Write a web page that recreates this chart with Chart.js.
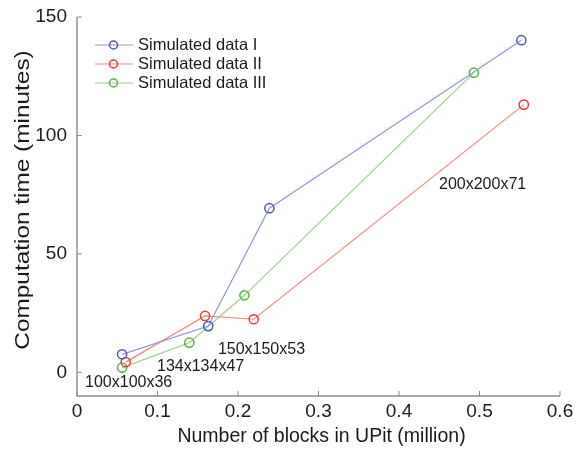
<!DOCTYPE html>
<html><head><meta charset="utf-8">
<script src="https://cdn.jsdelivr.net/npm/chart.js@4"></script>
<style>html,body{margin:0;padding:0;background:#fff}#wrap{width:579px;height:450px}</style>
</head><body><div id="wrap"><canvas id="c" width="579" height="450"></canvas></div>
<script>
const seriesNames = ["Simulated data I", "Simulated data II", "Simulated data III"];
const xI   = [0.056, 0.163, 0.239, 0.552];
const yI   = [7.6, 19.5, 69.3, 140.2];
const xII  = [0.0605, 0.159, 0.2195, 0.555];
const yII  = [4.3, 23.8, 22.4, 113];
const xIII = [0.056, 0.1395, 0.208, 0.493];
const yIII = [2, 12.5, 32.5, 126.5];
const xTicks = [0, 0.1, 0.2, 0.3, 0.4, 0.5, 0.6];
const yTicks = [0, 50, 100, 150];
const gridLabels = ["100x100x36", "134x134x47", "150x150x53", "200x200x71"];
const labelX = [0.01, 0.0994, 0.175, 0.4497];
const labelY = [-4.2, 2.5, 9.7, 79.3];
const xTitle = "Number of blocks in UPit (million)";
const yTitle = "Computation time (minutes)";

const FONT = "'Liberation Sans', Arial, sans-serif";
function pts(xs, ys){ return xs.map((x,i)=>({x:x, y:ys[i]})); }
const lineCols = ["#8f98d6", "#f7887a", "#95d385"];
const markCols = ["#4a57b8", "#ef3b2e", "#55b542"];

const decor = {
  id:'decor',
  afterDraw(chart){
    const ctx = chart.ctx, xs = chart.scales.x, ys = chart.scales.y, a = chart.chartArea;
    ctx.save();
    ctx.strokeStyle = '#8a8a8a'; ctx.lineWidth = 1.4;
    ctx.beginPath();
    ctx.moveTo(a.left, a.top); ctx.lineTo(a.left, a.bottom); ctx.lineTo(a.right, a.bottom);
    ctx.stroke();
    ctx.lineWidth = 1;
    ctx.beginPath();
    xTicks.forEach(v=>{ const p = xs.getPixelForValue(v); ctx.moveTo(p, a.bottom); ctx.lineTo(p, a.bottom-5); });
    yTicks.forEach(v=>{ const p = ys.getPixelForValue(v); ctx.moveTo(a.left, p); ctx.lineTo(a.left+5, p); });
    ctx.stroke();
    ctx.fillStyle = '#1a1a1a'; ctx.font = '16px ' + FONT; ctx.textBaseline = 'middle'; ctx.textAlign = 'left';
    gridLabels.forEach((t,i)=>{ ctx.fillText(t, xs.getPixelForValue(labelX[i]), ys.getPixelForValue(labelY[i])); });
    // axis titles
    ctx.font = '19.5px ' + FONT; ctx.textAlign = 'center';
    ctx.fillText(xTitle, (a.left + a.right)/2 + 3, 437);
    ctx.translate(24, 200);
    ctx.rotate(-Math.PI/2);
    ctx.scale(1.25, 1);
    ctx.fillText(yTitle, 0, 0);
    ctx.restore();
    // legend
    ctx.save();
    ctx.font = '16.5px ' + FONT; ctx.textBaseline='middle'; ctx.textAlign='left';
    seriesNames.forEach((n,i)=>{
      const y = 45 + i*19;
      ctx.strokeStyle = lineCols[i]; ctx.lineWidth=1.2;
      ctx.beginPath(); ctx.moveTo(95,y); ctx.lineTo(133,y); ctx.stroke();
      ctx.strokeStyle = markCols[i]; ctx.lineWidth=1.5;
      ctx.beginPath(); ctx.arc(113.5,y,4,0,Math.PI*2); ctx.stroke();
      ctx.fillStyle='#1a1a1a'; ctx.fillText(n, 138, y);
    });
    ctx.restore();
  }
};

new Chart(document.getElementById('c'), {
  type: 'scatter',
  data: { datasets: [
    {label: seriesNames[0], data: pts(xI,yI)},
    {label: seriesNames[1], data: pts(xII,yII)},
    {label: seriesNames[2], data: pts(xIII,yIII)}
  ].map((d,i)=>Object.assign(d,{
    showLine:true, borderColor: lineCols[i], backgroundColor:'rgba(255,255,255,0)',
    pointBorderColor: markCols[i], pointBackgroundColor:'rgba(255,255,255,0)',
    pointRadius:4.6, pointBorderWidth:1.5, borderWidth:1.2, tension:0
  })) },
  options: {
    responsive:false, animation:false, devicePixelRatio:1,
    layout:{padding:{top:17, right:19, left:0, bottom:0}},
    plugins:{ tooltip:{enabled:false}, legend:{display:false} },
    scales:{
      x:{type:'linear', min:0, max:0.6,
        afterBuildTicks(s){ s.ticks = xTicks.map(v=>({value:v})); },
        afterFit(s){ s.height = 54; s.paddingLeft = 0; s.paddingRight = 0; },
        grid:{display:false, drawTicks:false}, border:{display:false},
        ticks:{padding:4, color:'#1a1a1a', font:{family:FONT, size:19}, maxRotation:0,
          callback:v=>String(v)}
      },
      y:{type:'linear', min:-10, max:150,
        afterBuildTicks(s){ s.ticks = yTicks.map(v=>({value:v})); },
        afterFit(s){ s.width = 77; s.paddingTop = 0; s.paddingBottom = 0; },
        grid:{display:false, drawTicks:false}, border:{display:false},
        ticks:{padding:10, color:'#1a1a1a', font:{family:FONT, size:19}}
      }
    }
  },
  plugins:[decor]
});
</script></body></html>
